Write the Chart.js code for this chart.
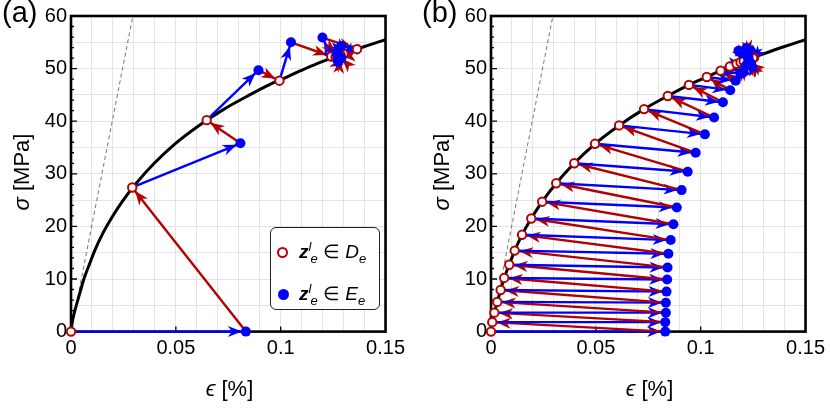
<!DOCTYPE html>
<html lang="en">
<head>
  <meta charset="UTF-8" />
  <title>Data-driven iterations on the stress-strain curve</title>
  <script src="https://cdn.jsdelivr.net/npm/chart.js"></script>
  <style>
    body {
      margin: 0;
      background: #fff;
      font-family: 'Liberation Sans', Arial, sans-serif;
      color: #000;
    }
    .figure { position: relative; width: 830px; height: 408px; overflow: hidden; }
    .panel { position: absolute; top: 0; width: 410px; height: 408px; }
    #panelA { left: 0; }
    #panelB { left: 420px; }
    canvas { position: absolute; left: 0; top: 0; }
    .tag { position: absolute; left: 2px; top: -2px; font-size: 29px; line-height: 1; }
    .ylab {
      position: absolute; left: 22px; top: 172px; width: 200px; height: 26px;
      margin-left: -100px; margin-top: -13px; line-height: 26px;
      text-align: center; font-size: 22px; transform: rotate(-90deg);
    }
    .xlab {
      position: absolute; left: 129.5px; top: 376px; width: 200px; height: 26px;
      line-height: 26px; text-align: center; font-size: 22px;
    }
    .legend-box {
      position: absolute; left: 270px; top: 227px; width: 110px; height: 83px;
      box-sizing: border-box; border: 1px solid #222; border-radius: 6px; background: #fff;
    }
    .item { position: absolute; left: 0; height: 28px; line-height: 28px; font-size: 19px; white-space: nowrap; }
    .mk { position: absolute; top: 50%; border-radius: 50%; box-sizing: border-box; }
    .mk.open { left: 6px; width: 11px; height: 11px; margin-top: -5.5px; border: 2px solid #b30000; background: #fff; }
    .mk.full { left: 7px; width: 11px; height: 11px; margin-top: -5.5px; background: #0000ff; }
    .txt { position: absolute; left: 28px; }
    .txt sup, .txt sub { font-size: 13px; font-style: italic; line-height: 0; }
    .txt sub.s2 { margin-left: -1px; }
  </style>
</head>
<body>
  <div class="figure">
    <div class="panel" id="panelA">
      <canvas id="chartA" width="410" height="408"></canvas>
      <div class="tag">(a)</div>
      <div class="ylab"><i>σ</i> [MPa]</div>
      <div class="xlab"><i>ϵ</i> [%]</div>
      <div class="legend-box">
        <div class="item" style="top:10px"><span class="mk open"></span><span class="txt"><b><i>z</i></b><sup>l</sup><sub class="s2">e</sub> ∈ <i>D</i><sub>e</sub></span></div>
        <div class="item" style="top:52px"><span class="mk full"></span><span class="txt"><b><i>z</i></b><sup>l</sup><sub class="s2">e</sub> ∈ <i>E</i><sub>e</sub></span></div>
      </div>
    </div>
    <div class="panel" id="panelB">
      <canvas id="chartB" width="410" height="408"></canvas>
      <div class="tag">(b)</div>
      <div class="ylab"><i>σ</i> [MPa]</div>
      <div class="xlab"><i>ϵ</i> [%]</div>
    </div>
  </div>

  <script>
    const BLUE = '#0000ff';
    const RED = '#b30000';

    // material curve, strain [%] vs stress [MPa]
    const curveStrain = [0, 0.0006, 0.0016, 0.0030, 0.0046, 0.0063, 0.0087, 0.0113, 0.0148, 0.0192, 0.0244, 0.0311,
      0.0397, 0.0496, 0.0611, 0.0730, 0.0843, 0.0944, 0.1029, 0.1095, 0.1171, 0.1300, 0.1400, 0.1500];
    const curveStress = [0, 1.8, 3.6, 5.65, 7.9, 10.2, 12.7, 15.4, 18.4, 21.5, 24.7, 28.2,
      32.0, 35.7, 39.2, 42.3, 44.8, 46.9, 48.4, 49.6, 50.9, 52.8, 54.2, 55.5];

    // dashed reference line
    const elasticStrain = [0, 0.0295];
    const elasticStress = [0, 60];

    // panel (a): D points (on curve) and E points
    const aDStrain = [0, 0.0292, 0.0647, 0.0994, 0.1241, 0.1364, 0.1262, 0.1300, 0.1280, 0.1285, 0.1270, 0.1278];
    const aDStress = [0, 27.4, 40.2, 47.7, 52.3, 53.7, 52.2, 52.8, 52.5, 52.6, 52.4, 52.5];
    const aEStrain = [0.0834, 0.0808, 0.0894, 0.1049, 0.1199, 0.1289, 0.1275, 0.1268, 0.1283, 0.1276, 0.1290, 0.1272];
    const aEStress = [0, 35.8, 49.7, 55.0, 55.9, 54.3, 51.2, 52.9, 51.8, 52.4, 52.0, 51.6];

    // panel (b)
    const bDStrain = [0, 0.0006, 0.0016, 0.0030, 0.0046, 0.0063, 0.0087, 0.0113, 0.0148, 0.0192, 0.0244, 0.0311,
      0.0397, 0.0496, 0.0611, 0.0730, 0.0843, 0.0944, 0.1029, 0.1095, 0.1139, 0.1171, 0.1190, 0.1240,
      0.1232, 0.1215, 0.1255, 0.1222, 0.1205, 0.1250, 0.1228];
    const bDStress = [0, 1.8, 3.6, 5.65, 7.9, 10.2, 12.7, 15.4, 18.4, 21.5, 24.7, 28.2,
      32.0, 35.7, 39.2, 42.3, 44.8, 46.9, 48.4, 49.6, 50.4, 50.9, 51.2, 51.9,
      51.7, 51.5, 52.1, 51.6, 51.4, 52.0, 51.7];
    const bEStrain = [0.0831, 0.0831, 0.0834, 0.0834, 0.0837, 0.0840, 0.0842, 0.0846, 0.0857, 0.0870, 0.0886, 0.0909,
      0.0938, 0.0976, 0.1020, 0.1064, 0.1106, 0.1141, 0.1167, 0.1190, 0.1205, 0.1215, 0.1230, 0.1180,
      0.1245, 0.1218, 0.1235, 0.1228, 0.1195, 0.1240, 0.1225];
    const bEStress = [0, 1.8, 3.6, 5.5, 7.6, 9.9, 12.2, 14.8, 17.4, 20.4, 23.6, 26.9,
      30.4, 34.0, 37.5, 40.7, 43.6, 45.9, 47.7, 49.0, 49.3, 50.6, 53.6, 53.4,
      50.4, 53.9, 51.2, 52.3, 52.9, 51.0, 52.0];

    // axes
    const xTickLabels = [0, 0.05, 0.1, 0.15];
    const yTickLabels = [0, 10, 20, 30, 40, 50, 60];
    const yMinorTicks = [2, 4, 6, 8, 12, 14, 16, 18, 22, 24, 26, 28, 32, 34, 36, 38, 42, 44, 46, 48, 52, 54, 56, 58];

    const toPoints = (xs, ys) => xs.map((x, i) => ({ x: x, y: ys[i] }));

    // arrowheads at the end of every arrow dataset
    const arrowHeads = {
      id: 'arrowHeads',
      afterDatasetDraw(chart, args) {
        const ds = chart.data.datasets[args.index];
        if (!ds.arrow) return;
        const p0 = args.meta.data[0], p1 = args.meta.data[1];
        const dx = p1.x - p0.x, dy = p1.y - p0.y;
        const len = Math.hypot(dx, dy);
        if (len < 0.5) return;
        const ux = dx / len, uy = dy / len;
        const gap = ds.arrowGap, L = 14, W = 5.5, notch = 4;
        const tx = p1.x - ux * gap, ty = p1.y - uy * gap;
        const bx = tx - ux * L, by = ty - uy * L;
        const ctx = chart.ctx;
        ctx.save();
        ctx.fillStyle = ds.borderColor;
        ctx.beginPath();
        ctx.moveTo(tx, ty);
        ctx.lineTo(bx - uy * W, by + ux * W);
        ctx.lineTo(bx + ux * notch, by + uy * notch);
        ctx.lineTo(bx + uy * W, by - ux * W);
        ctx.closePath();
        ctx.fill();
        ctx.restore();
      }
    };

    // frame and inward ticks
    const frameTicks = {
      id: 'frameTicks',
      beforeDatasetsDraw(chart) {
        const { ctx, chartArea: a, scales: { x, y } } = chart;
        ctx.save();
        ctx.strokeStyle = '#000';
        ctx.lineWidth = 1.3;
        ctx.beginPath();
        yMinorTicks.forEach(v => {
          const py = y.getPixelForValue(v);
          ctx.moveTo(a.left, py); ctx.lineTo(a.left + 3, py);
        });
        yTickLabels.forEach(v => {
          const py = y.getPixelForValue(v);
          ctx.moveTo(a.left, py); ctx.lineTo(a.left + 6, py);
        });
        xTickLabels.forEach(v => {
          const px = x.getPixelForValue(v);
          ctx.moveTo(px, a.bottom); ctx.lineTo(px, a.bottom - 5);
        });
        ctx.stroke();
        ctx.lineWidth = 2.6;
        ctx.strokeRect(a.left, a.top, a.right - a.left, a.bottom - a.top);
        ctx.restore();
      }
    };

    function buildDatasets(dx, dy, ex, ey) {
      const arrows = [];
      for (let k = 0; k < ex.length; k++) {
        arrows.push({ a: [dx[k], dy[k]], b: [ex[k], ey[k]], color: BLUE, gap: 4 });
        if (k + 1 < dx.length) arrows.push({ a: [ex[k], ey[k]], b: [dx[k + 1], dy[k + 1]], color: RED, gap: 4.5 });
      }
      const sets = [];
      sets.push({
        data: toPoints(curveStrain, curveStress), borderColor: '#000', borderWidth: 3,
        pointRadius: 0, cubicInterpolationMode: 'monotone', order: 3000
      });
      sets.push({
        data: toPoints(elasticStrain, elasticStress), borderColor: '#666', borderWidth: 0.9,
        borderDash: [4, 3], pointRadius: 0, order: 3001
      });
      arrows.forEach((ar, i) => sets.push({
        data: [{ x: ar.a[0], y: ar.a[1] }, { x: ar.b[0], y: ar.b[1] }],
        borderColor: ar.color, borderWidth: 2.4, pointRadius: 0,
        arrow: true, arrowGap: ar.gap, order: 2000 - i, clip: false
      }));
      sets.push({
        data: toPoints(dx, dy), showLine: false, pointRadius: 4.2, pointBackgroundColor: '#fff',
        pointBorderColor: RED, pointBorderWidth: 2, order: 1, clip: false
      });
      sets.push({
        data: toPoints(ex, ey), showLine: false, pointRadius: 5, pointBackgroundColor: BLUE,
        pointBorderWidth: 0, order: 0, clip: false
      });
      return sets;
    }

    function makeChart(id, dx, dy, ex, ey) {
      return new Chart(document.getElementById(id), {
        type: 'line',
        data: { datasets: buildDatasets(dx, dy, ex, ey) },
        options: {
          responsive: false,
          animation: false,
          layout: { padding: { left: 0, right: 22, top: 14, bottom: 0 } },
          plugins: { legend: { display: false }, tooltip: { enabled: false } },
          scales: {
            x: {
              type: 'linear', min: 0, max: 0.15,
              afterFit: s => { s.height = 76.4; },
              border: { display: false },
              grid: { color: '#e4e4e4', lineWidth: 1, drawTicks: false },
              ticks: {
                stepSize: 0.01, autoSkip: false, maxRotation: 0, minRotation: 0, padding: 5,
                color: '#000', font: { family: "'Liberation Sans', Arial, sans-serif", size: 20 },
                callback: v => {
                  const t = xTickLabels.find(t => Math.abs(t - v) < 1e-9);
                  return t === undefined ? '' : String(t);
                }
              }
            },
            y: {
              type: 'linear', min: 0, max: 60,
              afterFit: s => { s.width = 71; },
              border: { display: false },
              grid: { color: '#e4e4e4', lineWidth: 1, drawTicks: false },
              ticks: {
                stepSize: 5, autoSkip: false, padding: 4,
                color: '#000', font: { family: "'Liberation Sans', Arial, sans-serif", size: 20 },
                callback: v => (yTickLabels.includes(v) ? String(v) : '')
              }
            }
          }
        },
        plugins: [frameTicks, arrowHeads]
      });
    }

    makeChart('chartA', aDStrain, aDStress, aEStrain, aEStress);
    makeChart('chartB', bDStrain, bDStress, bEStrain, bEStress);
  </script>
</body>
</html>
